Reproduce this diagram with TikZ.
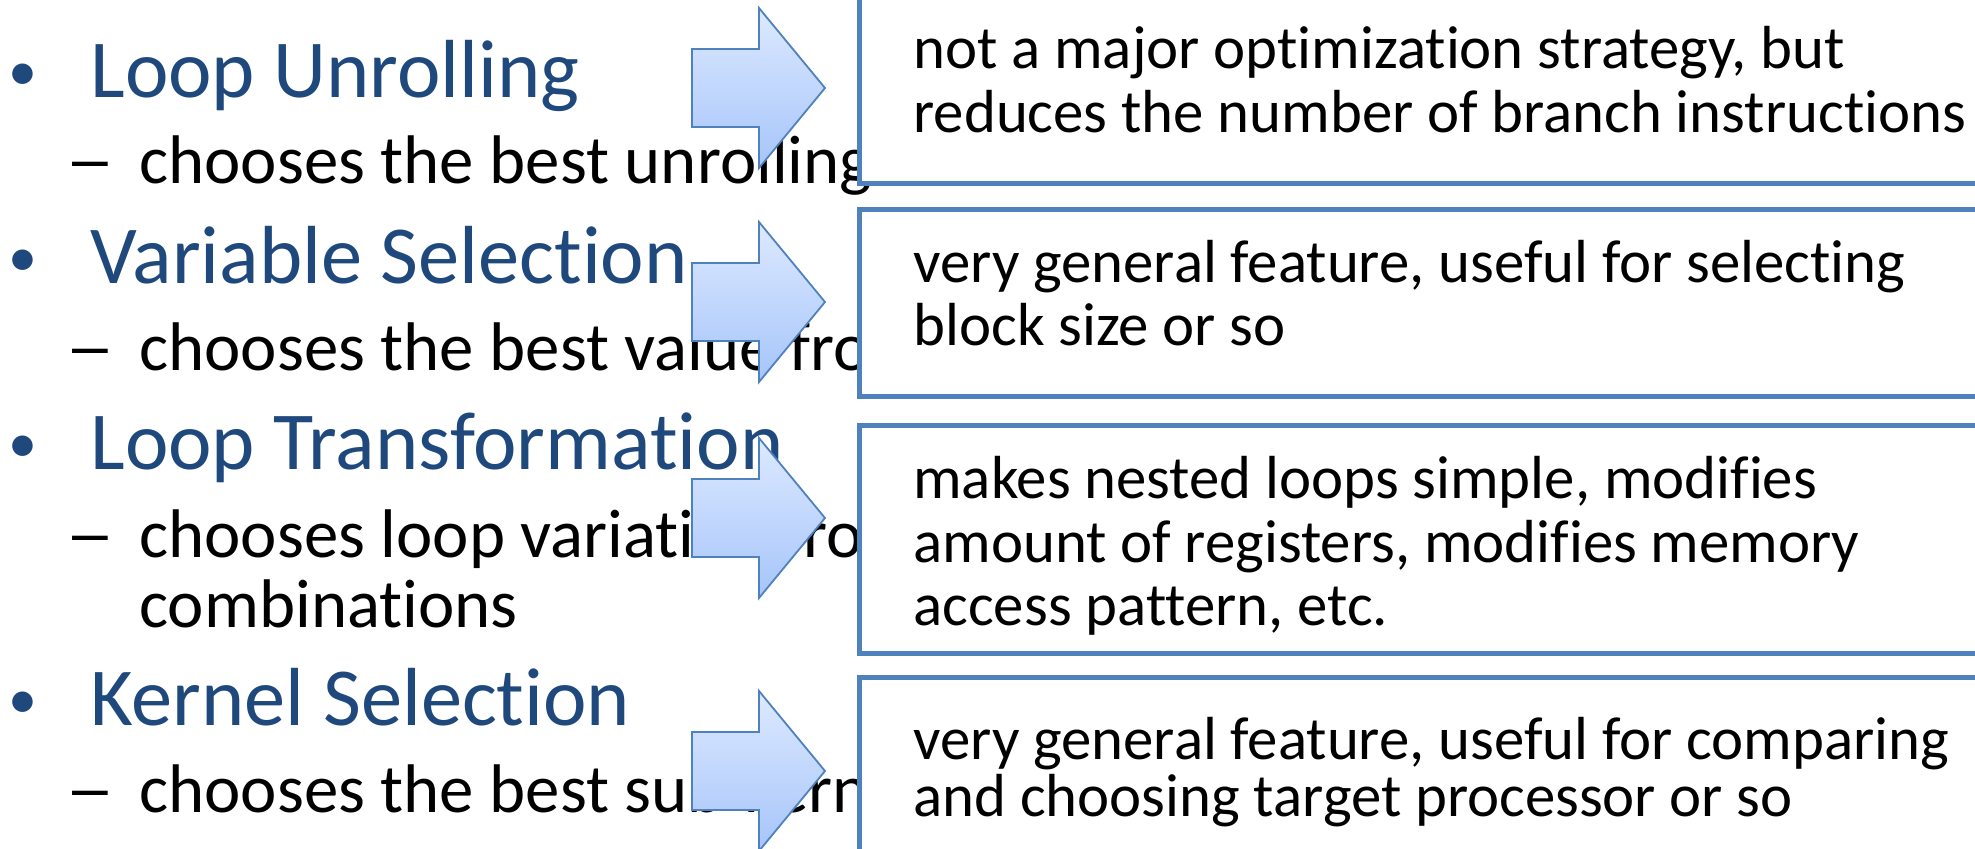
\documentclass[tikz,border=0pt]{standalone}
\usepackage{fontspec}
\setmainfont{Carlito}[Ligatures={NoCommon}]
\definecolor{headblue}{RGB}{31,73,125}
\definecolor{boxblue}{RGB}{79,129,189}
\definecolor{arrtop}{RGB}{221,233,255}
\definecolor{arrbot}{RGB}{166,197,250}
\tikzset{
  heading/.style={anchor=base west,inner sep=0pt,text=headblue,font=\fontsize{41.2}{48}\selectfont},
  bulletmark/.style={anchor=base,inner sep=0pt,text=headblue,font=\fontsize{29}{34}\selectfont},
  subline/.style={anchor=base west,inner sep=0pt,font=\fontsize{34.4}{40}\selectfont},
  dashmark/.style={anchor=base,inner sep=0pt,font=\fontsize{34.4}{40}\selectfont},
  boxline/.style={anchor=base west,inner sep=0pt,font=\fontsize{30.4}{36}\selectfont},
  notebox/.style={draw=boxblue,line width=2.5pt,fill=white},
  blockarrow/.style={draw=boxblue,line width=0.9pt,line join=miter,top color=arrtop,bottom color=arrbot},
  pics/rarrow/.style={code={
    \path[blockarrow] (692,-39) -- (759,-39) -- (759,-80) -- (825,0)
      -- (759,80) -- (759,39) -- (692,39) -- cycle;
  }}
}
\newcommand\widedash{\scalebox{1.45}[1]{–}}
\begin{document}
\begin{tikzpicture}[x=0.5pt,y=-0.5pt]
\useasboundingbox (0,0) rectangle (1975,848);
\clip (0,0) rectangle (1975,848);

% bullet list
\node[bulletmark] (b1) at (23,90) {•};
\node[heading] (h1) at (90,97) {Loop Unrolling};
\node[dashmark] (d1) at (90.5,183) {\widedash};
\node[subline] (s1) at (139,183) {chooses the best unrolling};

\node[bulletmark] (b2) at (23,276) {•};
\node[heading] (h2) at (90,283) {Variable Selection};
\node[dashmark] (d2) at (90.5,370) {\widedash};
\node[subline] (s2) at (139,370) {chooses the best value from};

\node[bulletmark] (b3) at (23,462) {•};
\node[heading] (h3) at (90,469) {Loop Transformation};
\node[dashmark] (d3) at (90.5,557) {\widedash};
\node[subline] (s3a) at (139,557) {chooses loop variation from};
\node[subline] (s3b) at (139,627) {combinations};

\node[bulletmark] (b4) at (23,718) {•};
\node[heading] (h4) at (90,725) {Kernel Selection};
\node[dashmark] (d4) at (90.5,812) {\widedash};
\node[subline] (s4) at (139,812) {chooses the best sub-kernel};

% block arrows
\pic at (0,88) {rarrow};
\pic at (0,302) {rarrow};
\pic at (0,518) {rarrow};
\pic at (0,771) {rarrow};

% note boxes
\draw[notebox] (859,-20) rectangle (2010,183);
\draw[notebox] (859,209) rectangle (2010,396);
\draw[notebox] (859,425) rectangle (2010,653);
\draw[notebox] (859,677) rectangle (2010,880);

\node[boxline] (n1a) at (913,68) {not a major optimization strategy, but};
\node[boxline] (n1b) at (913,132) {reduces the number of branch instructions};

\node[boxline] (n2a) at (913,282) {very general feature, useful for selecting};
\node[boxline] (n2b) at (913,345) {block size or so};

\node[boxline] (n3a) at (913,498) {makes nested loops simple, modifies};
\node[boxline] (n3b) at (913,562) {amount of registers, modifies memory};
\node[boxline] (n3c) at (913,625) {access pattern, etc.};

\node[boxline] (n4a) at (913,759) {very general feature, useful for comparing};
\node[boxline] (n4b) at (913,816) {and choosing target processor or so};
\end{tikzpicture}
\end{document}
